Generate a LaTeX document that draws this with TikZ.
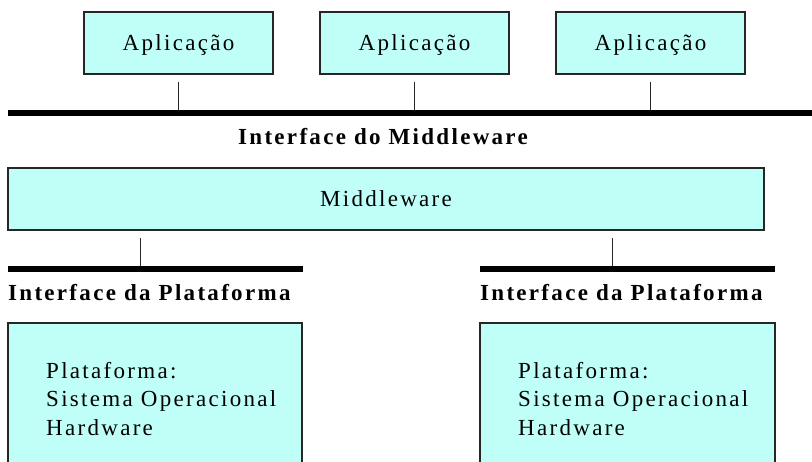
\documentclass[tikz,border=0pt]{standalone}
\usepackage{fontspec}
\setmainfont{Liberation Serif}[LetterSpace=10]
\definecolor{boxfill}{RGB}{192,255,248}
\tikzset{
  box/.style={draw=black!85, line width=1.2pt, fill=boxfill, inner sep=0pt,
    font=\fontsize{23}{28}\selectfont, text height=15pt, text depth=0pt},
  bus/.style={fill=black, inner sep=0pt, minimum height=6pt},
  txt/.style={font=\fontsize{23}{28.5}\selectfont, inner sep=0pt},
  btxt/.style={font=\fontsize{23}{28}\selectfont\bfseries, inner sep=0pt},
  link/.style={line width=1pt, draw=black!85},
}
\begin{document}
\begin{tikzpicture}[x=1pt, y=-1pt]
\useasboundingbox (0,0) rectangle (812,461);
% applications
\node[box, minimum width=189pt, minimum height=62pt] (app1) at (178.5,43) {Aplicação};
\node[box, minimum width=189pt, minimum height=62pt] (app2) at (414.5,43) {Aplicação};
\node[box, minimum width=189pt, minimum height=62pt] (app3) at (650.5,43) {Aplicação};
% middleware bus
\node[bus, minimum width=804pt] (bus1) at (410,113) {};
\node[btxt, anchor=base] (imw) at (383,144) {Interface do Middleware};
% middleware
\node[box, minimum width=756pt, minimum height=62pt] (mw) at (386,199) {Middleware};
% platform buses
\node[bus, minimum width=295pt] (bus2) at (155.5,269) {};
\node[bus, minimum width=295pt] (bus3) at (627.5,269) {};
\node[btxt, anchor=base west] (ip1) at (8,300) {Interface da Plataforma};
\node[btxt, anchor=base west] (ip2) at (480,300) {Interface da Plataforma};
% platforms
\node[box, minimum width=294pt, minimum height=152pt] (p1) at (155,399) {};
\node[box, minimum width=295pt, minimum height=152pt] (p2) at (627.5,399) {};
\node[txt, align=left, anchor=north west] (p1t) at (46,362) {Plataforma:\\Sistema Operacional\\Hardware};
\node[txt, align=left, anchor=north west] (p2t) at (518,362) {Plataforma:\\Sistema Operacional\\Hardware};
% connectors
\draw[link, shorten <=7pt] (app1.south) -- (app1.south |- bus1.north);
\draw[link, shorten <=7pt] (app2.south) -- (app2.south |- bus1.north);
\draw[link, shorten <=7pt] (app3.south) -- (app3.south |- bus1.north);
\draw[link, shorten >=7pt] ([xshift=-15.5pt]bus2.north) -- ([xshift=-15.5pt]bus2.north |- mw.south);
\draw[link, shorten >=7pt] ([xshift=-15.5pt]bus3.north) -- ([xshift=-15.5pt]bus3.north |- mw.south);
\end{tikzpicture}
\end{document}
